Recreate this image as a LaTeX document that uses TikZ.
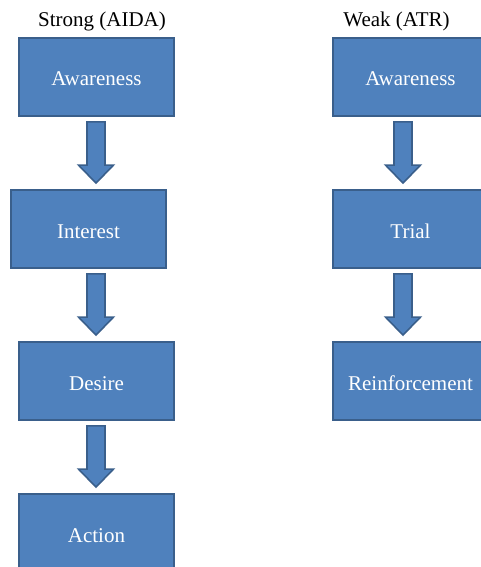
\documentclass[tikz,border=0pt]{standalone}
\usepackage{fontspec}
\setmainfont{Liberation Serif}
\usetikzlibrary{calc}
\definecolor{boxfill}{HTML}{4F81BD}
\definecolor{boxline}{HTML}{3A5F8B}
\tikzset{
  stagebox/.style={rectangle, fill=boxfill, draw=boxline, line width=1.8pt,
    minimum width=155pt, minimum height=78pt, inner sep=0pt, text=white,
    text height=18pt, text depth=0pt,
    font=\fontsize{21}{24}\selectfont},
  titletext/.style={anchor=base, inner sep=0pt, font=\fontsize{21}{24}\selectfont},
  blockarrow/.style={fill=boxfill, draw=boxline, line width=1.6pt, line join=miter}
}
% block arrow from node #1 to node #2, centre x = x of node #1 plus #3
\newcommand{\blockarr}[3]{%
  \draw[blockarrow] let \p1=($(#1.south)+(#3,5)$), \p2=($(#2.north)+(0,-6)$) in
    (\x1-9,\y1) -- (\x1+9,\y1) -- (\x1+9,\y2+18) -- (\x1+17.5,\y2+18)
    -- (\x1,\y2) -- (\x1-17.5,\y2+18) -- (\x1-9,\y2+18) -- cycle;}
\begin{document}
\begin{tikzpicture}[x=1pt,y=-1pt]
\useasboundingbox (0,0) rectangle (481,567);
\clip (0,0) rectangle (481,567);
\node[titletext] (t1) at (102,27) {Strong (AIDA)};
\node[titletext] (t2) at (396.5,27) {Weak (ATR)};
% left column
\node[stagebox] (a1) at (96.5,77) {Awareness};
\node[stagebox] (a2) at (88.5,229) {Interest};
\node[stagebox] (a3) at (96.5,381) {Desire};
\node[stagebox] (a4) at (96.5,533) {Action};
% right column
\node[stagebox] (b1) at (410.5,77) {Awareness};
\node[stagebox] (b2) at (410.5,229) {Trial};
\node[stagebox] (b3) at (410.5,381) {Reinforcement};
% arrows
\blockarr{a1}{a2}{-0.5}
\blockarr{a2}{a3}{7.5}
\blockarr{a3}{a4}{-0.5}
\blockarr{b1}{b2}{-7.5}
\blockarr{b2}{b3}{-7.5}
\end{tikzpicture}
\end{document}
